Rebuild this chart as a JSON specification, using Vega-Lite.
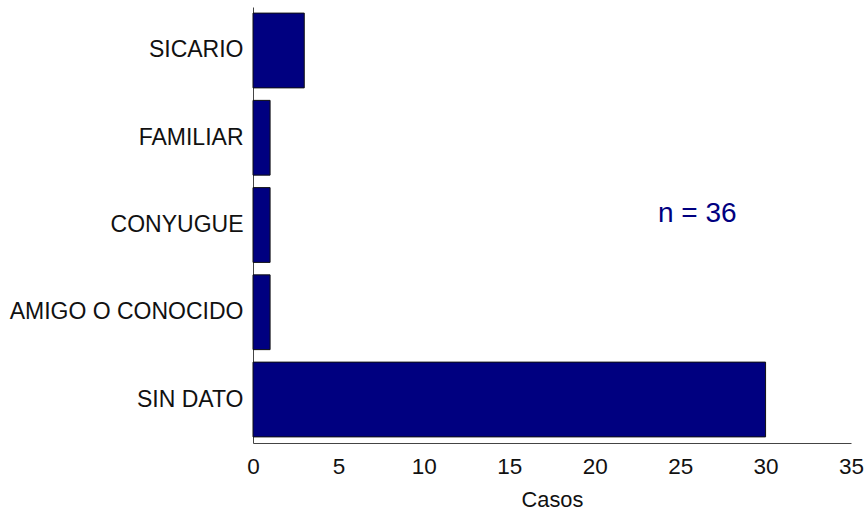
{
  "$schema": "https://vega.github.io/schema/vega-lite/v6.json",
  "width": 598,
  "height": 436,
  "autosize": {"type": "none"},
  "padding": {"left": 253, "top": 7, "right": 17, "bottom": 69},
  "background": "white",
  "config": {
    "view": {"stroke": null},
    "font": "Liberation Sans"
  },
  "data": {
    "values": [
      {"categoria": "SICARIO", "casos": 3},
      {"categoria": "FAMILIAR", "casos": 1},
      {"categoria": "CONYUGUE", "casos": 1},
      {"categoria": "AMIGO O CONOCIDO", "casos": 1},
      {"categoria": "SIN DATO", "casos": 30}
    ]
  },
  "layer": [
    {
      "mark": {"type": "bar", "fill": "#000080", "stroke": "#111111", "strokeWidth": 1},
      "encoding": {
        "y": {
          "field": "categoria",
          "type": "nominal",
          "sort": ["SICARIO", "FAMILIAR", "CONYUGUE", "AMIGO O CONOCIDO", "SIN DATO"],
          "scale": {"paddingInner": 0.143, "paddingOuter": 0.07},
          "axis": {
            "title": null,
            "ticks": false,
            "domainColor": "#444444",
            "labelFont": "Liberation Sans",
            "labelFontSize": 23,
            "labelColor": "#111111",
            "labelPadding": 10,
            "labelLimit": 300
          }
        },
        "x": {
          "field": "casos",
          "type": "quantitative",
          "scale": {"domain": [0, 35], "nice": false},
          "axis": {
            "title": "Casos",
            "values": [0, 5, 10, 15, 20, 25, 30, 35],
            "grid": false,
            "ticks": false,
            "domainColor": "#444444",
            "labelFont": "Liberation Sans",
            "labelFontSize": 22.5,
            "labelColor": "#111111",
            "labelPadding": 12,
            "labelFlush": false,
            "titleFont": "Liberation Sans",
            "titleFontSize": 21.8,
            "titleFontWeight": "normal",
            "titleColor": "#111111",
            "titlePadding": 12
          }
        }
      }
    },
    {
      "data": {"values": [{"x": 26, "categoria": "CONYUGUE", "label": "n = 36"}]},
      "mark": {"type": "text", "color": "#000080", "fontSize": 28, "font": "Liberation Sans", "dy": -11, "align": "center", "baseline": "middle"},
      "encoding": {
        "x": {"field": "x", "type": "quantitative"},
        "y": {"field": "categoria", "type": "nominal", "sort": ["SICARIO", "FAMILIAR", "CONYUGUE", "AMIGO O CONOCIDO", "SIN DATO"]},
        "text": {"field": "label"}
      }
    }
  ]
}
